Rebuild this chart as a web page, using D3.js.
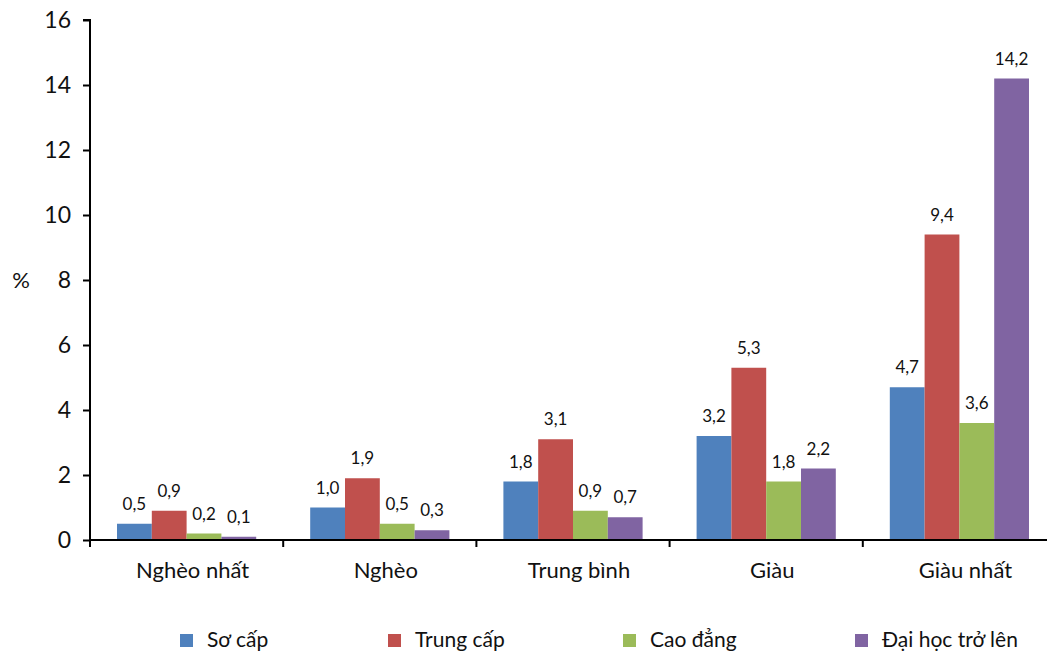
<!DOCTYPE html>
<html>
<head>
<meta charset="utf-8">
<script src="https://cdnjs.cloudflare.com/ajax/libs/d3/7.8.5/d3.min.js"></script>
<style>
  body { margin: 0; background: #fff; }
  svg text { font-family: Lato, "Open Sans", sans-serif; fill: #111; }
</style>
</head>
<body>
<div id="container"></div>
<script>
// data
var categories = ["Nghèo nhất", "Nghèo", "Trung bình", "Giàu", "Giàu nhất"];
var series = ["Sơ cấp", "Trung cấp", "Cao đẳng", "Đại học trở lên"];
var so_cap = [0.5, 1.0, 1.8, 3.2, 4.7];
var trung_cap = [0.9, 1.9, 3.1, 5.3, 9.4];
var cao_dang = [0.2, 0.5, 0.9, 1.8, 3.6];
var dai_hoc = [0.1, 0.3, 0.7, 2.2, 14.2];
var yTicks = [0, 2, 4, 6, 8, 10, 12, 14, 16];
var colors = ["#4F81BD", "#C0504D", "#9BBB59", "#8064A2"];

var values = [so_cap, trung_cap, cao_dang, dai_hoc];

var width = 1047, height = 653;
var plotLeft = 90, plotTop = 20, plotBottom = 540, plotRight = 1056;

var svg = d3.select("div#container")
  .append("svg")
  .attr("width", width)
  .attr("height", height);

var x = d3.scaleBand().domain(categories).range([plotLeft, plotRight]).paddingInner(0).paddingOuter(0);
var xInner = d3.scaleBand().domain(series).range([27, x.bandwidth() - 27]);
var y = d3.scaleLinear().domain([0, 16]).range([plotBottom, plotTop]);

// bars
series.forEach(function(s, si) {
  var g = svg.append("g");
  g.selectAll("rect")
    .data(values[si])
    .enter().append("rect")
    .attr("x", function(d, i) { return x(categories[i]) + xInner(s); })
    .attr("y", function(d) { return y(d); })
    .attr("width", xInner.bandwidth())
    .attr("height", function(d) { return y(0) - y(d); })
    .attr("fill", colors[si]);

  // value labels
  g.selectAll("text")
    .data(values[si])
    .enter().append("text")
    .attr("x", function(d, i) { return x(categories[i]) + xInner(s) + xInner.bandwidth() / 2; })
    .attr("y", function(d) { return y(d) - 14; })
    .attr("text-anchor", "middle")
    .style("font-size", "17px")
    .text(function(d) { return d.toFixed(1).replace(".", ","); });
});

// y axis
var yAxis = svg.append("g")
  .attr("transform", "translate(" + plotLeft + ",0)")
  .call(d3.axisLeft(y).tickValues(yTicks).tickSize(7).tickPadding(12).tickFormat(d3.format("d")));
yAxis.selectAll("text").style("font-size", "23px");
yAxis.selectAll("line, path").attr("stroke", "#000").attr("stroke-width", 2);
yAxis.select(".domain").attr("d", "M-7," + plotTop + "H0V" + plotBottom);

// x axis
var xAxis = svg.append("g")
  .attr("transform", "translate(0," + plotBottom + ")");
xAxis.append("line")
  .attr("x1", plotLeft).attr("x2", width)
  .attr("stroke", "#000").attr("stroke-width", 2);
xAxis.selectAll("line.tick")
  .data(categories)
  .enter().append("line")
  .attr("class", "tick")
  .attr("x1", function(d) { return x(d); })
  .attr("x2", function(d) { return x(d); })
  .attr("y1", 0).attr("y2", 7)
  .attr("stroke", "#000").attr("stroke-width", 2);
xAxis.selectAll("text")
  .data(categories)
  .enter().append("text")
  .attr("x", function(d) { return x(d) + x.bandwidth() / 2 + 6; })
  .attr("y", 38)
  .attr("text-anchor", "middle")
  .style("font-size", "22px")
  .text(function(d) { return d; });

// y label
svg.append("text")
  .attr("x", 21).attr("y", 288)
  .attr("text-anchor", "middle")
  .style("font-size", "22px")
  .text("%");

// legend
var legendX = [180, 388, 623, 855];
var legend = svg.append("g");
series.forEach(function(s, si) {
  legend.append("rect")
    .attr("x", legendX[si]).attr("y", 634)
    .attr("width", 13).attr("height", 13)
    .attr("fill", colors[si]);
  legend.append("text")
    .attr("x", legendX[si] + 27).attr("y", 647)
    .style("font-size", "21px")
    .text(s);
});
</script>
</body>
</html>
